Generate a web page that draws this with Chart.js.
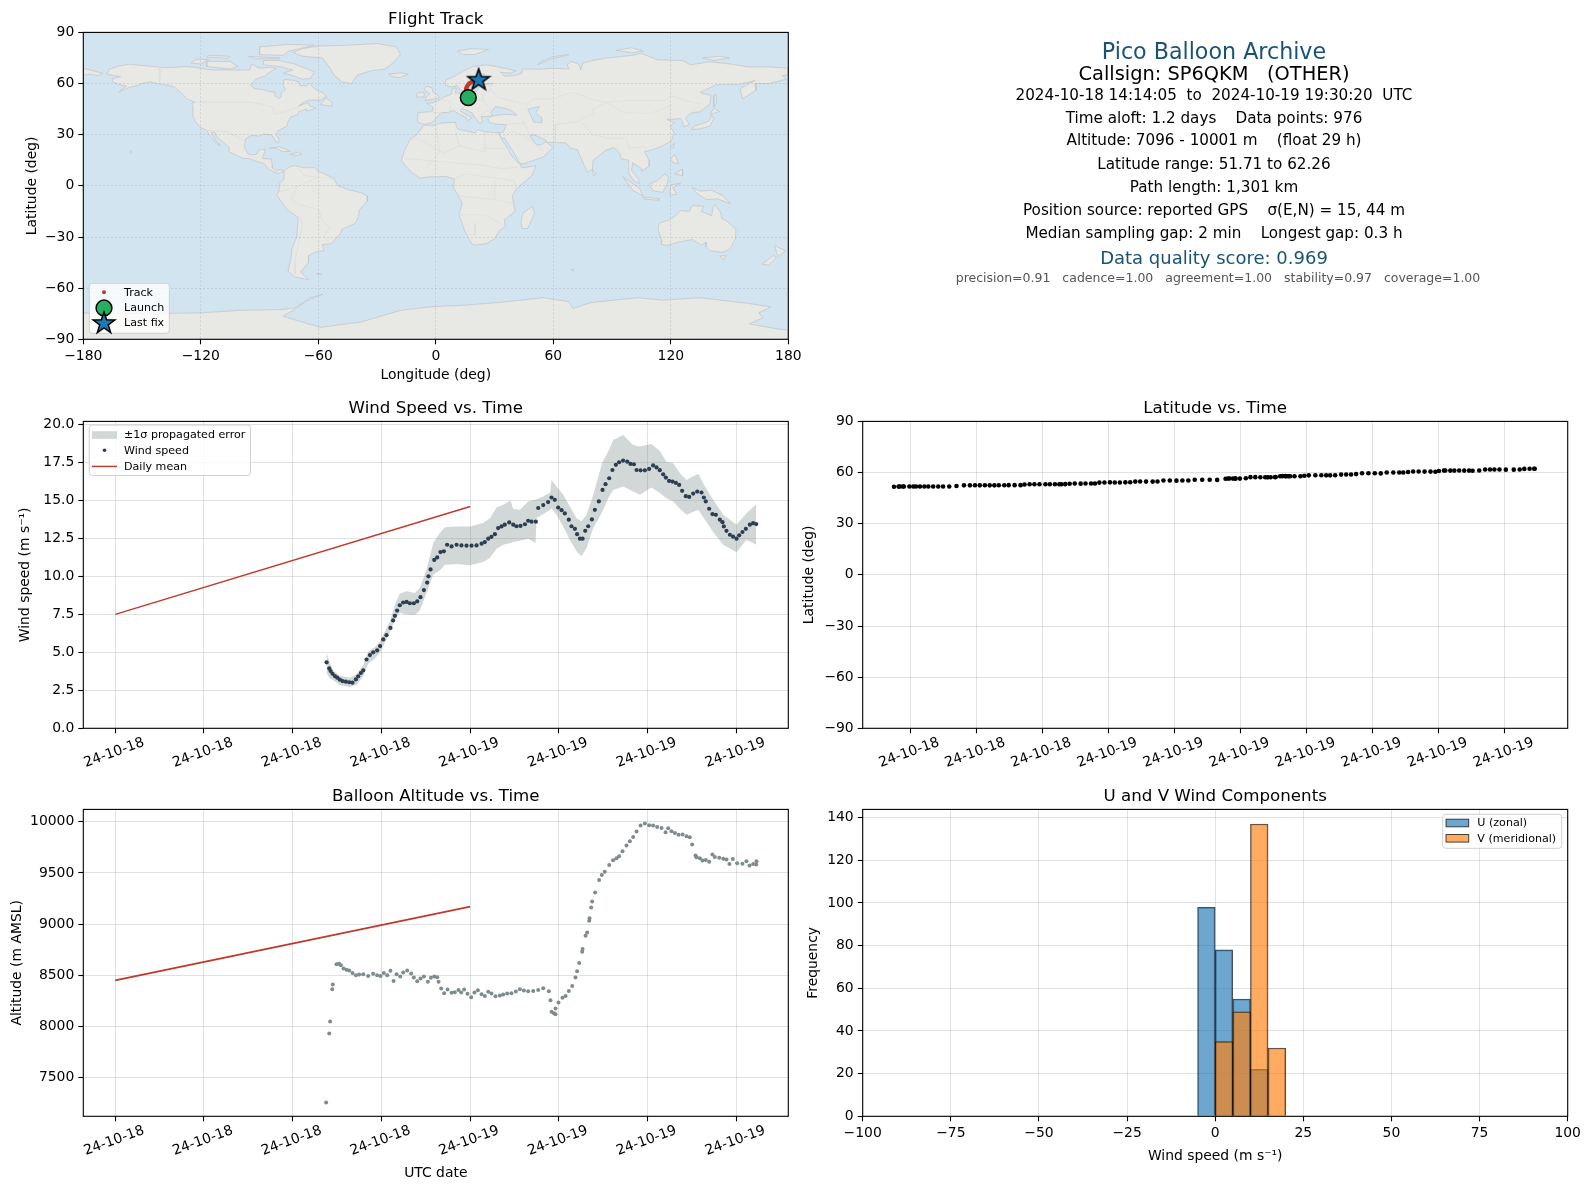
<!DOCTYPE html>
<html lang="en">
<head>
<meta charset="UTF-8">
<title>Pico Balloon Archive</title>
<style>
  body { margin: 0; background: #fff; font-family: "DejaVu Sans", sans-serif; }
  canvas { position: absolute; display: block; }
  .info { position: absolute; left: 800px; width: 828px; text-align: center; white-space: pre; transform: translateY(-50%); color: #000; line-height: 1.2; }
</style>
</head>
<body>
<canvas id="mapChart" width="815" height="390" style="left:0;top:0"></canvas>
<canvas id="windChart" width="800" height="388" style="left:0;top:389px"></canvas>
<canvas id="latChart" width="790" height="388" style="left:800px;top:389px"></canvas>
<canvas id="altChart" width="800" height="412" style="left:0;top:777px"></canvas>
<canvas id="histChart" width="790" height="412" style="left:800px;top:777px"></canvas>

<div class="info" style="top:50.7px;font-size:22.2px;color:#1a5276">Pico Balloon Archive</div>
<div class="info" style="top:74px;font-size:19.4px">Callsign: SP6QKM   (OTHER)</div>
<div class="info" style="top:94.5px;font-size:15.2px">2024-10-18 14:14:05  to  2024-10-19 19:30:20  UTC</div>
<div class="info" style="top:117.6px;font-size:15.2px">Time aloft: 1.2 days    Data points: 976</div>
<div class="info" style="top:140.4px;font-size:15.2px">Altitude: 7096 - 10001 m    (float 29 h)</div>
<div class="info" style="top:164.2px;font-size:15.2px">Latitude range: 51.71 to 62.26</div>
<div class="info" style="top:187.2px;font-size:15.2px">Path length: 1,301 km</div>
<div class="info" style="top:210.2px;font-size:15.2px">Position source: reported GPS    σ(E,N) = 15, 44 m</div>
<div class="info" style="top:233.2px;font-size:15.2px">Median sampling gap: 2 min    Longest gap: 0.3 h</div>
<div class="info" style="top:257.6px;font-size:18px;color:#1a5276">Data quality score: 0.969</div>
<div class="info" style="top:276.9px;left:804px;font-size:12.5px;color:#555">precision=0.91   cadence=1.00   agreement=1.00   stability=0.97   coverage=1.00</div>

<script src="https://cdn.jsdelivr.net/npm/chart.js@4.4.1/dist/chart.umd.js"></script>
<script>
// hours since 2024-10-18 00:00 UTC
const windHours = [
  14.29,14.47,14.56,14.69,14.85,15.01,15.19,15.37,15.59,15.82,
  16.04,16.27,16.43,16.61,16.77,16.99,17.22,17.44,17.71,17.91,
  18.12,18.34,18.61,18.79,18.91,19.06,19.24,19.47,19.70,19.92,
  20.19,20.42,20.64,20.87,21.09,21.18,21.32,21.57,21.77,21.99,
  22.22,22.44,22.74,23.08,23.41,23.75,24.09,24.43,24.77,24.99,
  25.22,25.44,25.67,25.89,26.12,26.34,26.64,26.91,27.13,27.40,
  27.70,27.92,28.15,28.44,28.60,28.94,29.27,29.50,29.72,29.95,
  30.18,30.40,30.67,30.85,31.08,31.23,31.42,31.60,31.78,31.98,
  32.23,32.43,32.70,32.95,33.15,33.40,33.62,33.85,34.07,34.34,
  34.62,34.84,35.07,35.25,35.52,35.81,36.10,36.37,36.60,36.82,
  37.05,37.23,37.45,37.68,37.91,38.13,38.33,38.58,38.81,39.08,
  39.35,39.64,39.80,39.93,40.16,40.38,40.61,40.88,41.06,41.15,
  41.33,41.56,41.78,42.01,42.19,42.41,42.64,42.91,43.13,43.34];
const windSpeed = [
  4.34,3.94,3.77,3.59,3.44,3.33,3.2,3.11,3.07,3.03,
  3.0,3.22,3.42,3.64,3.81,4.53,4.82,5.0,5.13,5.41,
  5.85,6.13,6.61,7.1,7.4,7.75,8.1,8.28,8.32,8.23,
  8.23,8.36,8.63,9.1,9.59,10.0,10.46,11.08,11.25,11.6,
  11.65,12.08,11.97,12.08,12.04,12.02,12.02,12.04,12.15,12.26,
  12.48,12.6,12.78,13.18,13.29,13.4,13.55,13.4,13.3,13.32,
  13.43,13.66,13.6,13.6,14.5,14.69,14.89,15.19,15.04,14.53,
  14.36,14.14,13.73,13.3,13.13,12.78,12.48,12.48,13.0,13.3,
  13.75,14.38,14.93,15.69,16.07,16.46,17.0,17.34,17.51,17.62,
  17.55,17.4,17.38,17.0,16.98,16.98,17.07,17.3,17.17,16.99,
  16.72,16.5,16.28,16.24,16.15,16.02,15.63,15.28,15.23,15.45,
  15.58,15.52,15.19,14.93,14.45,14.1,14.05,13.73,13.57,13.29,
  13.0,12.74,12.61,12.48,12.7,12.92,13.13,13.4,13.5,13.44];

const bandHours = [
  14.29,14.47,14.74,15.19,15.86,16.31,16.77,17.10,17.55,17.89,
  18.57,18.91,19.24,19.70,20.26,20.59,21.05,21.50,21.95,22.29,
  23.08,23.98,24.88,25.33,25.78,26.23,26.73,26.91,27.36,27.92,
  28.42,28.49,28.94,29.41,29.50,29.84,30.29,30.74,31.19,31.53,
  31.87,32.32,32.95,33.33,33.67,34.34,35.02,35.47,36.26,36.82,
  37.27,37.73,38.18,38.63,39.42,39.87,40.43,41.11,42.01,42.68,43.34];
const bandHigh = [
  5.0,4.43,3.81,3.44,3.33,3.55,4.16,5.04,5.34,5.69,
  7.05,8.15,8.85,9.02,8.91,9.24,10.44,12.19,12.85,13.24,
  13.29,13.29,13.51,13.83,14.53,14.71,14.99,14.43,14.38,14.93,
  15.04,15.08,15.26,15.52,16.35,15.91,15.37,14.6,13.83,13.62,
  14.05,15.37,17.55,18.21,18.98,19.31,18.65,18.54,18.71,18.25,
  17.55,17.45,16.79,16.35,16.75,15.91,15.04,14.05,13.4,14.16,14.75];
const bandLow = [
  3.66,3.33,3.16,2.85,2.72,2.85,3.44,4.25,4.6,4.97,
  6.29,7.16,7.6,7.49,7.45,7.75,8.91,10.11,10.38,10.77,
  10.82,10.73,10.95,11.21,11.82,12.08,12.19,12.26,12.35,12.48,
  12.19,13.83,14.1,14.38,14.49,14.05,13.29,12.41,11.65,11.32,
  11.87,13.18,14.27,15.15,15.69,15.91,15.59,15.37,15.85,15.48,
  15.15,14.93,14.45,14.05,14.38,13.73,12.92,12.08,11.58,12.41,12.08];

const meanHours = [0, 24];
const windMean = [7.5, 14.6];
const altMean = [8450, 9170];

const trackHours = [
  14.26,14.47,14.53,14.67,14.71,14.96,15.14,15.26,15.44,15.64,
  15.82,16.04,16.27,16.49,16.77,17.10,17.44,17.71,17.94,18.16,
  18.39,18.61,18.82,19.02,19.27,19.47,19.74,20.01,20.19,20.42,
  20.64,20.87,21.14,21.34,21.57,21.77,21.86,22.04,22.24,22.47,
  22.74,22.96,23.21,23.39,23.59,23.82,24.07,24.29,24.52,24.77,
  24.99,25.22,25.44,25.71,26.01,26.23,26.50,26.79,27.09,27.36,
  27.63,27.92,28.26,28.60,28.94,29.32,29.43,29.50,29.66,29.77,
  29.77,29.97,30.24,30.45,30.67,30.90,31.12,31.23,31.37,31.57,
  31.60,31.80,31.91,32.05,32.07,32.18,32.25,32.45,32.72,32.90,
  33.10,33.40,33.67,33.89,34.07,34.30,34.57,34.80,35.02,35.25,
  35.52,35.81,36.10,36.37,36.64,36.94,37.21,37.39,37.61,37.84,
  38.09,38.36,38.63,38.85,39.01,39.24,39.30,39.53,39.71,39.93,
  40.16,40.38,40.54,40.84,41.11,41.33,41.53,41.76,42.05,42.41,
  42.68,42.89,43.13,43.36,43.34];
const altitude = [
  7255,7928,8046,8363,8408,8608,8611,8598,8565,8552,
  8546,8520,8500,8507,8510,8493,8513,8500,8493,8520,
  8500,8542,8444,8510,8487,8526,8546,8516,8477,8441,
  8467,8487,8435,8474,8487,8480,8435,8369,8324,8359,
  8327,8333,8356,8330,8359,8317,8284,8330,8353,8314,
  8297,8337,8320,8294,8301,8310,8320,8324,8340,8363,
  8350,8343,8346,8356,8373,8343,8255,8141,8127,8173,
  8118,8232,8278,8297,8346,8395,8477,8539,8618,8729,
  8755,8886,8918,9033,9056,9163,9222,9310,9431,9480,
  9513,9578,9624,9644,9663,9712,9768,9810,9853,9905,
  9964,9984,9967,9964,9951,9941,9899,9938,9909,9892,
  9873,9876,9860,9850,9778,9670,9654,9644,9621,9628,
  9611,9680,9657,9650,9640,9631,9588,9637,9595,9591,
  9614,9572,9588,9614,9582];
const latitude = [
  51.71,51.75,51.78,51.8,51.8,51.8,51.82,51.8,51.8,51.82,
  51.8,51.82,51.8,51.82,51.85,52.1,52.5,52.5,52.55,52.5,
  52.55,52.5,52.5,52.55,52.55,52.6,52.6,52.6,53.0,53.1,
  53.1,53.15,53.1,53.1,53.15,53.1,53.1,53.2,53.45,53.55,
  53.5,53.6,53.55,53.6,54.1,54.2,54.25,54.15,54.2,54.25,
  54.3,54.7,54.75,54.7,54.7,54.75,55.3,55.3,55.25,55.3,
  55.3,55.8,55.8,55.75,55.7,56.4,56.5,56.5,56.45,56.5,
  56.45,56.45,56.7,57.3,57.3,57.25,57.25,57.2,57.25,57.3,
  57.4,57.85,57.9,57.9,57.85,57.85,57.8,57.8,57.85,58.1,
  58.35,58.4,58.4,58.35,58.35,58.4,58.8,58.85,58.9,59.1,
  59.6,59.6,59.55,59.5,60.0,60.0,60.0,60.05,60.3,60.6,
  60.6,60.55,60.55,60.5,60.95,61.2,61.2,61.15,61.15,61.2,
  61.15,61.15,61.1,61.2,61.75,61.8,61.8,61.75,61.7,61.7,
  61.8,62.15,62.2,62.26,62.25];

const wideTickHours = [0,6,12,18,24,30,36,42];
const wideTickLabels = ['24-10-18','24-10-18','24-10-18','24-10-18','24-10-19','24-10-19','24-10-19','24-10-19'];
const latTickHours = [15,18,21,24,27,30,33,36,39,42];
const latTickLabels = ['24-10-18','24-10-18','24-10-18','24-10-19','24-10-19','24-10-19','24-10-19','24-10-19','24-10-19','24-10-19'];
const altTicks = [7500,8000,8500,9000,9500,10000];

const histBinCenters = [-2.5,2.5,7.5,12.5,17.5];
const uCounts = [98,78,55,22,0];
const vCounts = [0,35,49,137,32];

const flightLon = [16.6,16.0,15.6,15.4,15.5,15.8,16.3,16.9,17.6,18.5,19.6,20.8,21.9];
const flightLat = [51.71,53.0,54.5,56.0,57.0,58.0,59.0,59.9,60.5,61.0,61.5,61.9,62.26];
const launchPoint = [16.6, 51.71];
const lastFixPoint = [21.9, 62.26];

// land outlines, lon/lat
const northAmerica = [[-168,65.5],[-166.8,68.3],[-162,70.3],[-156.5,71.3],[-148,70.4],[-141,69.6],[-135,69.3],[-128,70],[-124,69.7],[-115,68],[-108,68],[-100,68],[-95,68],[-94,71.5],[-90,69],[-85,69.5],[-81.5,69],[-85,66.5],[-87,64.5],[-92,62.5],[-94.5,59],[-92.5,57],[-88,56.5],[-85,55.3],[-82,55],[-82.3,52.9],[-80,51.3],[-79,52],[-79,54.5],[-76.7,56.5],[-78,59],[-77.5,62.4],[-73,62],[-70,61],[-69.5,58.8],[-66,58.7],[-64.5,60.3],[-61.5,56.5],[-58,54.8],[-55.7,52.5],[-59,50.3],[-65,50.2],[-67,49.2],[-70,47],[-65,48.9],[-64.5,47],[-61,45.5],[-66,43.8],[-66,45],[-70,43.5],[-70.5,41.7],[-74,40.5],[-75.5,37.5],[-76,35],[-78,33.8],[-81,32],[-81.3,30],[-80,26.8],[-80.5,25.2],[-81.8,26],[-82.8,28],[-84,30],[-88,30.3],[-90,29.2],[-94,29.6],[-97.2,27.5],[-97.7,22.5],[-96,19],[-94.5,18.2],[-91.5,18.5],[-90.5,21],[-87,21.5],[-88,18],[-88.5,16],[-84,15.8],[-83.5,12],[-83.5,10.5],[-81.5,9],[-79.5,9.5],[-77.5,8.7],[-78.5,8],[-80.5,7.3],[-83,8.3],[-85.7,10],[-87.5,13],[-92,14.5],[-95,16],[-98,16],[-102,18],[-105.5,20],[-105.5,22.5],[-108,25],[-112,29],[-113,31.5],[-114.7,31.5],[-112.5,27],[-110,23.5],[-112,25],[-115,29],[-117,32.5],[-120.5,34.5],[-123,38],[-124.3,42],[-124,46.5],[-124.7,48.4],[-123,49],[-127,51],[-130,54.5],[-133.5,58],[-137,59],[-142,60],[-146,61],[-150,60],[-152,59],[-157,57.5],[-162,55],[-158,58.5],[-162,59.5],[-165,61],[-165,63],[-161,64]];
const southAmerica = [[-77.5,8.7],[-75,11],[-72,12],[-68,10.7],[-62,10.7],[-60,8.5],[-52,4.5],[-50,0],[-44,-2.5],[-38,-4],[-35,-6],[-35,-9],[-39,-14],[-39.5,-18],[-41,-22],[-48,-25.5],[-48.7,-28],[-53.5,-34],[-58,-34.5],[-57,-38],[-62,-39],[-65,-41],[-65,-45],[-69,-50.5],[-65,-55],[-72,-53.5],[-75.5,-50],[-74,-43],[-73.5,-37],[-71,-30],[-70.3,-18.5],[-76,-14],[-81.2,-5.5],[-80,-2.5],[-80,1],[-77.5,4],[-77.5,7]];
const greenland = [[-73,78.2],[-68,80.5],[-60,82],[-45,82.5],[-30,83.5],[-20,81.5],[-18,77],[-22,72],[-26,68.5],[-33,67.5],[-40,65],[-43,60],[-48,61],[-52,65],[-54,69],[-58,75],[-68,76]];
const eurasia = [[-9,37],[-9.5,38.8],[-9,43],[-2,43.5],[-1.2,46],[-4.7,48.4],[-1.5,48.7],[1.5,50.2],[4,52],[8,53.8],[8.5,57],[10.5,57.5],[10,54.5],[14,54],[19,54.5],[21,55.5],[22,58],[24,59.5],[29.5,60],[23,60],[21.5,61],[21.5,63],[25,65.5],[22,65.8],[17.5,62],[18.5,60],[16.5,56.5],[13,55.4],[11,58.8],[8,58],[5,59],[5,62],[10,64.5],[14,67.5],[19,70],[25.5,71],[31,70],[41,67.5],[38,66],[33,66.7],[35,64.3],[40,64.7],[44,66],[44,68.5],[54,68.5],[60,69],[68,68.5],[67,71],[69,73],[73,71.5],[74,68],[75,72],[80,73.5],[87,75],[100,76.5],[105,77.7],[113,74],[126,73.5],[130,71],[140,72.8],[150,71.5],[160,69.7],[170,69.8],[180,69],[180,65],[177,64.7],[179,62.5],[170,60],[163,60],[163.5,56],[156.7,51],[155.5,56],[156,57.5],[163,61.8],[155,59.5],[143,59.3],[135,54.7],[140.5,53],[140,48],[135,43.5],[130,42.5],[127.5,39.8],[129.5,36],[126.5,34.5],[126,37.5],[125,39.5],[121,39],[118,39],[122,37],[119.5,35],[121.8,31],[120,26],[114,22.5],[110,21],[106.5,20],[109,15],[109,11.5],[105,8.6],[105,10.2],[100.5,13.5],[100,9],[103.5,4],[104,1.3],[101,3],[98.3,8],[98.5,15],[94.5,16],[94,19],[91,22.5],[87,21],[80.3,15],[80,10],[77.5,8],[73,19],[72.5,21],[69,22],[66.5,25.2],[57,25.5],[56,27],[50,30],[48,29.5],[50,26],[51.5,24.2],[54,24],[56.2,26],[59.8,22.5],[55,17],[45,13],[43,13],[39,21],[35,28],[34,27.8],[32.5,30],[32.3,31.2],[34.3,31.3],[36,36],[32,36],[27.5,37],[26.5,39.5],[29,41],[35,42],[41.5,41.5],[38,44.5],[36,45.2],[33,46],[30.5,46.5],[28,43],[29,41.2],[26,40.7],[23,40.5],[24,38],[22.5,36.5],[19.5,41],[19,42.5],[13.5,45.5],[12.5,44],[16,41.5],[18.5,40],[16,38],[15.7,40],[12,42],[9,44.3],[6,43],[3,43],[0,39.5],[-2,37],[-5.5,36]];
const africa = [[-6,35.8],[-2,35.2],[3,36.9],[10,37.3],[11,33.5],[15,32.3],[20,31],[21.5,33],[25,31.7],[32.3,31.2],[32.5,29.9],[34,26.5],[35.5,24],[37.2,21],[38.5,18],[43,12.5],[44,10.5],[51.2,11.8],[49,6],[41,-2],[39,-6],[40.5,-15],[35,-20],[35.5,-24],[32.7,-26],[30,-31],[25.7,-34],[20,-34.8],[18.3,-34],[15,-27],[11.8,-17],[13.5,-10],[9,-1],[9.5,4],[5,5.5],[-4,5.2],[-8,4.5],[-13,8.5],[-17.5,14.7],[-16.3,20],[-13,27.5],[-9.7,30]];
const australia = [[114,-22],[113.5,-26],[115.5,-32],[115.2,-34.3],[118,-35],[124,-33],[131,-31.5],[135.7,-34.8],[138,-33],[138,-35.5],[140,-38],[146,-39],[150,-37.3],[153,-31],[153.3,-25.5],[149,-21],[146,-19],[145.2,-15],[142.5,-10.8],[141.5,-13],[140.8,-17.5],[135.7,-15],[136.8,-12],[131,-11.5],[129.5,-15],[125,-14.5],[122,-18],[119,-20]];
const antarctica = [[-180,-90],[-180,-74.5],[-150,-75],[-120,-74.5],[-100,-73],[-78,-72.5],[-72,-71.5],[-67,-68],[-57.5,-63.5],[-65,-66],[-70,-71],[-78,-76.5],[-59,-83],[-38,-79.8],[-18,-73],[-3,-71],[14,-70],[31,-68.5],[55,-65.6],[68,-68],[70,-72],[79,-68.5],[103,-65.6],[116,-67],[135,-65.6],[160,-69],[171,-71],[165,-74.5],[167,-77.5],[160,-81],[176,-84.2],[180,-84.5],[180,-90]];
const chukotkaEnd = [[-180,69],[-175,67.5],[-170,66],[-172.5,64.5],[-176,65.5],[-180,65]];
const baffin = [[-80,73.5],[-72,71.5],[-68,69.5],[-62,67],[-64,63],[-68,62.5],[-74,65],[-78,66],[-73,68],[-80,70],[-88,71],[-88,73.5]];
const victoriaIsland = [[-117,70],[-105,68.5],[-101,70],[-105,73],[-117,73]];
const banksIsland = [[-125,72],[-120,71.5],[-116,74],[-122,74.3]];
const ellesmere = [[-90,77],[-78,76.5],[-75,79],[-62,82.5],[-75,83],[-90,81.5]];
const devonIsland = [[-96,76],[-80,75],[-80,74.5],[-92,74.5]];
const melvilleIsland = [[-117,75.5],[-106,74.8],[-105,76],[-116,76.5]];
const newfoundland = [[-59,47.7],[-53,46.7],[-53,49],[-56,51.5]];
const cuba = [[-85,22],[-80,23],[-74.2,20.2],[-78,20],[-82,22.3]];
const hispaniola = [[-74.4,18.5],[-70,19.9],[-68.4,18.5],[-71.5,17.8]];
const hawaii = [[-156,20.7],[-155,19.9],[-155.6,19],[-156,19.7]];
const iceland = [[-24,65.5],[-18,66.3],[-14,65.5],[-18.5,63.5],[-22.5,64]];
const britain = [[-5.5,50],[1.5,51.3],[1.5,52.8],[-1.5,55],[-2,57.5],[-5,58.5],[-6,56.5],[-3,54],[-5,52]];
const ireland = [[-10,52],[-6,52.2],[-6,55],[-9.5,54.5]];
const svalbard = [[11,79],[18,80.5],[27,80],[20,77],[14,77]];
const novayaZemlya = [[52,71],[58,74],[68,77],[60,75.8],[54,73]];
const severnaya = [[92,79.5],[100,81],[106,79],[100,78]];
const newSiberian = [[136,75],[145,76],[150,75],[142,73.5]];
const honshu = [[130.5,33],[135,33.5],[140,35],[142,39.5],[141,41.5],[139.5,38],[136,36.5],[132,35]];
const hokkaido = [[140,42],[145,43.5],[142,45.5]];
const sakhalin = [[142,46],[143.5,49],[143,54],[142,53]];
const taiwan = [[120,23],[122,25],[121,22]];
const luzon = [[120,16],[122,18.5],[124,13],[121,13.8]];
const mindanao = [[122,7],[126,9.8],[126,6]];
const borneo = [[109,1],[113,3],[117,7],[119,5],[118,1],[116,-3.8],[111,-3]];
const sumatra = [[95.3,5.5],[104,-1.5],[106,-6],[101,-3]];
const java = [[105.5,-6.5],[114,-7.5],[114,-8.5],[106,-7.7]];
const sulawesi = [[119.5,-5.5],[120,0.5],[125,1.5],[121,-1],[123,-5]];
const newGuinea = [[131,-1],[135,-3],[141,-2.6],[147,-6],[150.5,-10.5],[144,-7.7],[138,-8],[133,-4]];
const sriLanka = [[80,9.7],[82,7],[80.5,6]];
const madagascar = [[49.3,-12],[50.4,-16],[47,-25],[44,-25],[43.5,-21],[44.5,-16]];
const tasmania = [[145,-41],[148.3,-41],[147,-43.5]];
const newZealandNorth = [[173,-35],[178.5,-38],[175,-41.5],[174,-39]];
const newZealandSouth = [[172.5,-40.8],[174,-42],[170,-46.5],[166.5,-46]];
const falklands = [[-61,-51.5],[-58,-51.5],[-59,-52.3]];
const kerguelen = [[68.8,-49],[70.5,-49],[70,-50]];
const caspianSea = [[47,45],[53,46.5],[51,43],[54,40],[54,37],[50,37.5],[49,40]];

const landShapes = [northAmerica, southAmerica, greenland, eurasia, africa, australia, antarctica, chukotkaEnd,
  baffin, victoriaIsland, banksIsland, ellesmere, devonIsland, melvilleIsland, newfoundland, cuba, hispaniola, hawaii,
  iceland, britain, ireland, svalbard, novayaZemlya, severnaya, newSiberian, honshu, hokkaido, sakhalin, taiwan,
  luzon, mindanao, borneo, sumatra, java, sulawesi, newGuinea, sriLanka, madagascar, tasmania,
  newZealandNorth, newZealandSouth, falklands, kerguelen];
const seaShapes = [caspianSea];

// country borders, only the ones that show at this size
const borderLines = [
  [[-123,49],[-95,49],[-89,48],[-83,46],[-82.5,42],[-76,44],[-70,46],[-67.5,47.5]],
  [[-141,69.6],[-141,60],[-135,59],[-130,55]],
  [[-117,32.5],[-106.5,31.8],[-97.2,26]],
  [[-52,4],[-60,5],[-70,0],[-74,-7],[-70,-11],[-60,-14],[-58,-20],[-54,-25],[-57.5,-30],[-53.5,-33.7]],
  [[-69.5,-17.5],[-68,-23],[-70,-33],[-72,-45],[-72,-52]],
  [[-70,0],[-78,-3],[-80,-3.5]],
  [[-72,12],[-67,6],[-60,5]],
  [[-13,27],[-8.7,27.7],[4,19],[12,23.5],[25,20],[25,31.5]],
  [[25,22],[36.8,22]],
  [[-16,16],[15,13],[24,12],[34,10],[42,11]],
  [[9,4],[15,7],[28,5],[40,3],[41,-2]],
  [[12,-6],[30,-8],[40,-10.5]],
  [[12,-17],[25,-17],[33,-22]],
  [[20,-22],[20,-29],[16.5,-28.5]],
  [[30,-8],[30,3]],
  [[0,36],[2,20],[-5,10]],
  [[10,33],[12,23]],
  [[28,56],[32,52],[40,49.5],[47,48],[50,51],[60,51],[70,55],[80,50.5],[87,49],[98,50],[107,50],[117,50],[120,53],[127,50],[135,48],[131,43]],
  [[75,37],[80,30],[88,28],[97,28],[99,22],[106,23],[108,21.5]],
  [[74,39],[80,42],[80,45],[87,49]],
  [[87,49],[96,43],[110,42.5],[120,47]],
  [[44,39],[46,35],[48,30]],
  [[61,36],[61,25]],
  [[61,36],[74,38]],
  [[36,36],[46,37]],
  [[35,29],[39,32],[46,29],[52,23],[55,20]],
  [[-1.7,43.4],[3,42.5]],
  [[2.5,51],[8,49],[7,44]],
  [[14,54],[15,51],[24,50],[28,45],[22,41]],
  [[24,50],[24,54],[28,56],[28,60]]
];

const FONT = '"DejaVu Sans", sans-serif';
const TICK_SIZE = 13.9;
const GRID = 'rgba(176,176,176,0.38)';
const RED = '#c0392b';
const WIND_DOT = '#2c3e50';
const ALT_DOT = '#7f8c8d';

Chart.defaults.font.family = FONT;
Chart.defaults.color = '#000';

const xy = (xs, ys) => xs.map((x, i) => ({x: x, y: ys[i]}));
const minus = v => String(v).replace('-', '\u2212');

function makeStar() {
  const c = document.createElement('canvas');
  c.width = 26; c.height = 26;
  const g = c.getContext('2d');
  g.beginPath();
  for (let i = 0; i < 10; i++) {
    const r = i % 2 ? 4.5 : 11.4;
    const a = -Math.PI / 2 + i * Math.PI / 5;
    g[i ? 'lineTo' : 'moveTo'](13 + r * Math.cos(a), 13.5 + r * Math.sin(a));
  }
  g.closePath();
  g.fillStyle = '#1f77b4';
  g.fill();
  g.lineWidth = 1.5;
  g.strokeStyle = '#000';
  g.stroke();
  return c;
}
const starImage = makeStar();

// black box round the plot
const framePlugin = {
  id: 'frame',
  afterDraw(chart) {
    const {ctx, chartArea: a} = chart;
    ctx.save();
    ctx.strokeStyle = '#000';
    ctx.lineWidth = 1.1;
    ctx.strokeRect(a.left, a.top, a.right - a.left, a.bottom - a.top);
    ctx.restore();
  }
};

const oceanPlugin = {
  id: 'ocean',
  beforeDraw(chart) {
    const {ctx, chartArea: a} = chart;
    ctx.save();
    ctx.fillStyle = '#d3e4f1';
    ctx.fillRect(a.left, a.top, a.right - a.left, a.bottom - a.top);
    ctx.restore();
  }
};

// matplotlib style legend box sitting inside the plot
const boxLegendPlugin = {
  id: 'boxLegend',
  afterDraw(chart, args, opts) {
    const ctx = chart.ctx;
    const [x, y, w, h] = opts.box;
    ctx.save();
    ctx.beginPath();
    ctx.roundRect(x, y, w, h, 3);
    ctx.fillStyle = 'rgba(255,255,255,0.8)';
    ctx.fill();
    ctx.strokeStyle = '#d0d0d0';
    ctx.lineWidth = 1;
    ctx.stroke();
    ctx.font = '11.1px ' + FONT;
    ctx.textBaseline = 'middle';
    for (const it of opts.items) {
      ctx.fillStyle = '#000';
      ctx.fillText(it.label, opts.textX, it.y + 0.5);
      if (it.kind === 'rect') {
        ctx.fillStyle = it.fill;
        ctx.fillRect(opts.swatch[0], it.y - 3.8, opts.swatch[1] - opts.swatch[0], 7.6);
        if (it.edge) {
          ctx.strokeStyle = it.edge;
          ctx.strokeRect(opts.swatch[0], it.y - 3.8, opts.swatch[1] - opts.swatch[0], 7.6);
        }
      } else if (it.kind === 'line') {
        ctx.strokeStyle = it.color;
        ctx.lineWidth = 1.4;
        ctx.beginPath();
        ctx.moveTo(opts.swatch[0], it.y);
        ctx.lineTo(opts.swatch[1], it.y);
        ctx.stroke();
      } else if (it.kind === 'dot') {
        ctx.fillStyle = it.color;
        ctx.beginPath();
        ctx.arc(it.x, it.y, it.r, 0, Math.PI * 2);
        ctx.fill();
        if (it.edge) {
          ctx.strokeStyle = it.edge;
          ctx.lineWidth = 1.5;
          ctx.stroke();
        }
      } else if (it.kind === 'image') {
        ctx.drawImage(it.image, it.x - it.image.width / 2, it.y - it.image.height / 2);
      }
    }
    ctx.restore();
  }
};

function xAxis(opts) {
  const ax = {
    type: 'linear',
    min: opts.min,
    max: opts.max,
    border: {display: false},
    grid: {color: GRID, lineWidth: 1, tickColor: '#000', tickLength: 5, tickWidth: 1.1},
    ticks: {color: '#000', font: {size: TICK_SIZE}, padding: 4, autoSkip: false, maxRotation: 0, includeBounds: false},
    afterFit(scale) {
      scale.height = opts.height;
      scale.paddingLeft = 0;
      scale.paddingRight = 0;
    }
  };
  if (opts.step) ax.ticks.stepSize = opts.step;
  if (opts.ticksAt) {
    ax.afterBuildTicks = scale => { scale.ticks = opts.ticksAt.map(v => ({value: v})); };
    ax.ticks.callback = v => opts.tickLabels[opts.ticksAt.indexOf(v)];
    ax.ticks.minRotation = 20;
    ax.ticks.maxRotation = 20;
    ax.ticks.labelOffset = 28.5;
    ax.ticks.padding = 1;
  } else {
    ax.ticks.callback = minus;
  }
  if (opts.title) {
    ax.title = {display: true, text: opts.title, color: '#000', font: {size: TICK_SIZE}, padding: {top: 0, bottom: opts.titlePad}};
  }
  return ax;
}

function yAxis(opts) {
  const ax = {
    type: 'linear',
    min: opts.min,
    max: opts.max,
    border: {display: false},
    grid: {color: GRID, lineWidth: 1, tickColor: '#000', tickLength: 5, tickWidth: 1.1},
    ticks: {color: '#000', font: {size: TICK_SIZE}, padding: 4, stepSize: opts.step, includeBounds: false, callback: opts.format || minus},
    title: {display: true, text: opts.title, color: '#000', font: {size: TICK_SIZE}, padding: {top: opts.titlePad, bottom: 0}},
    afterFit(scale) {
      scale.width = opts.width;
      scale.paddingTop = 0;
      scale.paddingBottom = 0;
    }
  };
  if (opts.ticksAt) {
    ax.afterBuildTicks = scale => { scale.ticks = opts.ticksAt.map(v => ({value: v})); };
  }
  return ax;
}

function baseOptions(title, rightPad, scales, legend) {
  return {
    responsive: false,
    animation: false,
    events: [],
    layout: {autoPadding: false, padding: {left: 0, right: rightPad, top: 0, bottom: 0}},
    scales: scales,
    plugins: {
      legend: {display: false},
      tooltip: {enabled: false},
      title: {display: true, text: title, color: '#000', fullSize: false, font: {size: 16.67, weight: 'normal', lineHeight: 1.2}, padding: {top: 10, bottom: 2.4}},
      boxLegend: legend
    }
  };
}

const dots = (data, color, r) => ({data: data, backgroundColor: color, borderWidth: 0, pointRadius: r, showLine: false});
const plainLine = (data, color, w) => ({data: data, showLine: true, borderColor: color, borderWidth: w, pointRadius: 0, fill: false, tension: 0});

// flight track map
const closeRing = s => xy(s.map(p => p[0]), s.map(p => p[1])).concat([{x: s[0][0], y: s[0][1]}]);
const shapeSet = (s, fill, edge) => ({data: closeRing(s), showLine: true, fill: 'shape', backgroundColor: fill, borderColor: edge, borderWidth: 0.8, pointRadius: 0, tension: 0});

const mapData = [
  {data: [{x: lastFixPoint[0], y: lastFixPoint[1]}], pointStyle: starImage, pointRadius: 11, showLine: false},
  {data: [{x: launchPoint[0], y: launchPoint[1]}], pointStyle: 'circle', pointRadius: 7.9, backgroundColor: '#27ae60', borderColor: '#000', borderWidth: 1.5, showLine: false},
  dots(xy(flightLon, flightLat), RED, 2.2),
  ...borderLines.map(b => plainLine(xy(b.map(p => p[0]), b.map(p => p[1])), '#dddddb', 0.8)),
  ...seaShapes.map(s => shapeSet(s, '#d3e4f1', '#c3cacf')),
  ...landShapes.map(s => shapeSet(s, '#e8e8e4', '#c3c8cc'))
];

const mapScales = {
  x: xAxis({min: -180, max: 180, step: 60, height: 50.7, title: 'Longitude (deg)', titlePad: 6.7}),
  y: yAxis({min: -90, max: 90, step: 30, width: 83.3, title: 'Latitude (deg)', titlePad: 24})
};
mapScales.x.grid.z = 1; mapScales.y.grid.z = 1;
mapScales.x.grid.color = 'rgba(110,120,130,0.2)'; mapScales.y.grid.color = 'rgba(110,120,130,0.2)';
mapScales.x.border = {display: false, dash: [2, 2]}; mapScales.y.border = {display: false, dash: [2, 2]};

new Chart(document.getElementById('mapChart'), {
  type: 'scatter',
  data: {datasets: mapData},
  options: baseOptions('Flight Track', 26.7, mapScales, {
    box: [89.3, 283.3, 80, 50], textX: 124, swatch: [92, 117],
    items: [
      {label: 'Track', kind: 'dot', color: RED, x: 104, y: 292.3, r: 2},
      {label: 'Launch', kind: 'dot', color: '#27ae60', edge: '#000', x: 104, y: 308, r: 7.9},
      {label: 'Last fix', kind: 'image', image: starImage, x: 104, y: 323}
    ]
  }),
  plugins: [oceanPlugin, framePlugin, boxLegendPlugin]
});

// wind speed
new Chart(document.getElementById('windChart'), {
  type: 'scatter',
  data: {datasets: [
    plainLine(xy(meanHours, windMean), RED, 1.4),
    dots(xy(windHours, windSpeed), WIND_DOT, 2.1),
    {data: xy(bandHours, bandLow), showLine: true, borderWidth: 0, pointRadius: 0, fill: false, tension: 0},
    {data: xy(bandHours, bandHigh), showLine: true, borderWidth: 0, pointRadius: 0, fill: '-1', backgroundColor: 'rgba(127,140,141,0.35)', tension: 0}
  ]},
  options: baseOptions('Wind Speed vs. Time', 11.7, {
    x: xAxis({min: -2.16, max: 45.51, height: 48.7, ticksAt: wideTickHours, tickLabels: wideTickLabels}),
    y: yAxis({min: 0, max: 20.2, step: 2.5, width: 83.3, title: 'Wind speed (m s\u207B\u00B9)', titlePad: 17, format: v => v.toFixed(1)})
  }, {
    box: [89.2, 36, 161.3, 50.5], textX: 124, swatch: [92, 117],
    items: [
      {label: '\u00B11\u03C3 propagated error', kind: 'rect', fill: 'rgba(127,140,141,0.35)', y: 46},
      {label: 'Wind speed', kind: 'dot', color: WIND_DOT, x: 104.5, y: 61.2, r: 1.8},
      {label: 'Daily mean', kind: 'line', color: RED, y: 77.4}
    ]
  }),
  plugins: [framePlugin, boxLegendPlugin]
});

// latitude
new Chart(document.getElementById('latChart'), {
  type: 'scatter',
  data: {datasets: [dots(xy(trackHours, latitude), '#000', 2.3)]},
  options: baseOptions('Latitude vs. Time', 22.3, {
    x: xAxis({min: 12.84, max: 44.86, height: 48.7, ticksAt: latTickHours, tickLabels: latTickLabels}),
    y: yAxis({min: -90, max: 90, step: 30, width: 62.7, title: 'Latitude (deg)', titlePad: 0.7})
  }, {box: [0, 0, 0, 0], items: []}),
  plugins: [framePlugin]
});

// altitude
new Chart(document.getElementById('altChart'), {
  type: 'scatter',
  data: {datasets: [
    plainLine(xy(meanHours, altMean), RED, 1.8),
    dots(xy(trackHours, altitude), ALT_DOT, 2)
  ]},
  options: baseOptions('Balloon Altitude vs. Time', 11.7, {
    x: xAxis({min: -2.16, max: 45.51, height: 72.7, ticksAt: wideTickHours, tickLabels: wideTickLabels, title: 'UTC date', titlePad: 7.7}),
    y: yAxis({min: 7119, max: 10122, width: 83.3, ticksAt: altTicks, title: 'Altitude (m AMSL)', titlePad: 9})
  }, {box: [0, 0, 0, 0], items: []}),
  plugins: [framePlugin]
});

// U / V histogram
const histX = xAxis({min: -100, max: 100, step: 25, height: 72.7, title: 'Wind speed (m s\u207B\u00B9)', titlePad: 24.7});
histX.offset = false;
histX.grid.offset = false;
const barStyle = {grouped: false, barPercentage: 1, categoryPercentage: 1, borderWidth: 1, borderColor: 'rgba(0,0,0,0.7)'};

new Chart(document.getElementById('histChart'), {
  type: 'bar',
  data: {datasets: [
    {...barStyle, data: xy(histBinCenters, vCounts), backgroundColor: 'rgba(255,127,14,0.65)'},
    {...barStyle, data: xy(histBinCenters, uCounts), backgroundColor: 'rgba(31,119,180,0.65)'}
  ]},
  options: baseOptions('U and V Wind Components', 22.3, {
    x: histX,
    y: yAxis({min: 0, max: 143.85, step: 20, width: 62.7, title: 'Frequency', titlePad: 4.7})
  }, {
    box: [642.7, 37.3, 119, 34], textX: 677.3, swatch: [646, 668.7],
    items: [
      {label: 'U (zonal)', kind: 'rect', fill: 'rgba(31,119,180,0.65)', edge: 'rgba(0,0,0,0.7)', y: 46},
      {label: 'V (meridional)', kind: 'rect', fill: 'rgba(255,127,14,0.65)', edge: 'rgba(0,0,0,0.7)', y: 61.3}
    ]
  }),
  plugins: [framePlugin, boxLegendPlugin]
});
</script>
</body>
</html>
